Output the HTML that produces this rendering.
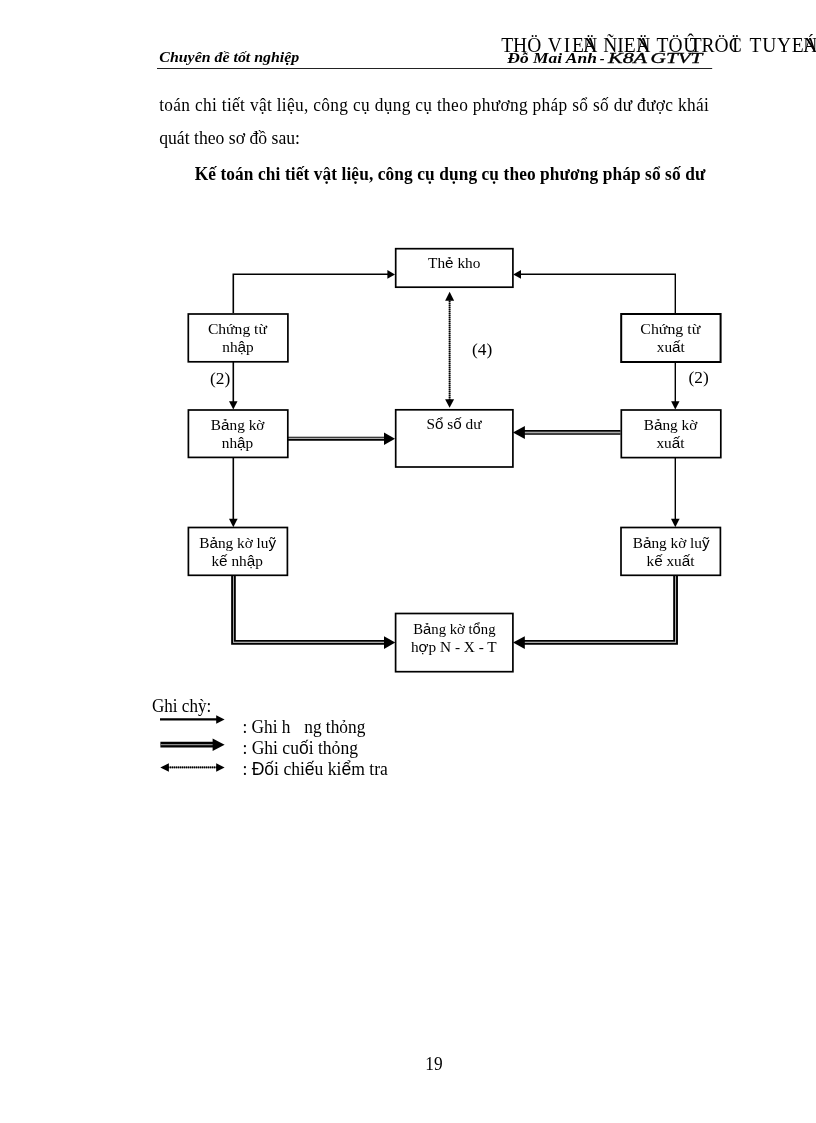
<!DOCTYPE html>
<html><head><meta charset="utf-8">
<style>
html,body{margin:0;padding:0;background:#fff;}
body{width:816px;height:1123px;position:relative;overflow:hidden;font-family:"Liberation Serif",serif;color:#000;}
.t{position:absolute;white-space:nowrap;font-size:17.33px;line-height:20px;will-change:transform;}
.j{text-align:justify;text-align-last:justify;}
svg{position:absolute;left:0;top:0;will-change:transform;}
svg text{font-family:"Liberation Serif",serif;fill:#000;}
.s{font-family:"Liberation Sans",sans-serif;}
.b{fill:#fff;stroke:#000;stroke-width:1.7;}
.l{stroke:#000;fill:none;}
</style></head><body>
<svg width="816" height="1123" viewBox="0 0 816 1123">
<!-- header -->
<line x1="157" y1="68.5" x2="712.2" y2="68.5" stroke="#222" stroke-width="1"/>
<text x="159.3" y="62.3" font-size="15" font-weight="bold" font-style="italic" textLength="140" lengthAdjust="spacingAndGlyphs">Chuyên đề tốt nghiệp</text>
<g font-size="14.5" font-weight="bold" font-style="italic">
<text x="507.3" y="62.8" textLength="89.6" lengthAdjust="spacingAndGlyphs">Đỗ Mai Anh</text>
<text x="599.8" y="62.8">-</text>
<text x="608" y="62.8" textLength="39" lengthAdjust="spacingAndGlyphs" font-weight="normal" stroke="#000" stroke-width="0.35">K8A</text>
<text x="650.6" y="62.8" textLength="51.8" lengthAdjust="spacingAndGlyphs" font-weight="normal" stroke="#000" stroke-width="0.35">GTVT</text>
</g>
<g font-size="19.5" transform="translate(0,52) scale(1,1.07)">
<text x="501.2" y="0">THÖ</text>
<text x="547.8" y="0" textLength="36" lengthAdjust="spacing">VIE</text><text x="583.3" y="0">N</text><text x="583.3" y="0">Ä</text>
<text x="603.2" y="0">ÑIE</text><text x="636.2" y="0">N</text><text x="636.2" y="0">Ä</text>
<text x="656.6" y="0">TÖ</text><text x="683.3" y="0">Û</text><text x="689.8" y="0">T</text>
<text x="701.6" y="0">RÖ</text><text x="728.8" y="0">C</text><text x="732" y="0">Ï</text>
<text x="749.6" y="0" textLength="54" lengthAdjust="spacing">TUYE</text><text x="803.3" y="0">N</text><text x="803.3" y="0">Á</text>
</g>


<!-- body text -->
<g font-size="17.33">
<text transform="translate(159.2,110.9) scale(1,1.13)" textLength="549.6" lengthAdjust="spacing" id="L1">toán chi tiết vật liệu, công cụ dụng cụ theo phương pháp sổ số dư được khái</text>
<text transform="translate(159.2,143.9) scale(1.02,1.13)">quát theo sơ đồ sau:</text>
<text transform="translate(194.7,179.5) scale(1,1.14)" font-weight="bold" textLength="510.6" lengthAdjust="spacing">Kế toán chi tiết vật liệu, công cụ dụng cụ theo phương pháp sổ số dư</text>
<text transform="translate(152,711.6) scale(0.985,1.07)">Ghi chỳ:</text>
<text transform="translate(242.4,732.5) scale(1,1.07)">: Ghi h<tspan dx="13.7">ng</tspan> thỏng</text>
<text transform="translate(242.4,754.1) scale(1.013,1.07)">: Ghi cu<tspan class="s">ố</tspan>i thỏng</text>
<text transform="translate(242.4,775) scale(1.014,1.07)">: <tspan class="s">Đố</tspan>i chi<tspan class="s">ế</tspan>u ki<tspan class="s">ể</tspan>m tra</text>
<text transform="translate(425.3,1070) scale(1,1.07)">19</text>
</g>
<!-- connectors -->
<g class="l" stroke-width="1.6">
<polyline points="233.3,313 233.3,274.3 389,274.3"/>
<line x1="233.3" y1="362" x2="233.3" y2="403"/>
<line x1="233.3" y1="458" x2="233.3" y2="520"/>
</g>
<g class="l" stroke-width="1.4">
<polyline points="675.3,313 675.3,274.3 520,274.3"/>
<line x1="675.3" y1="362" x2="675.3" y2="403"/>
<line x1="675.3" y1="458" x2="675.3" y2="520"/>
</g>
<!-- single arrowheads -->
<g fill="#000">
<polygon points="395,274.4 387.4,270 387.4,278.8"/>
<polygon points="513.2,274.4 521,270 521,278.8"/>
<polygon points="233.3,409.4 229,401.2 237.5,401.2"/>
<polygon points="675.3,409.4 671.1,401.2 679.5,401.2"/>
<polygon points="233.3,527.3 229,518.8 237.6,518.8"/>
<polygon points="675.3,527.3 671,518.8 679.6,518.8"/>
</g>
<!-- dotted double-ended vertical -->
<line x1="449.6" y1="299" x2="449.6" y2="401" stroke="#666" stroke-width="1.7"/><line x1="449.6" y1="299" x2="449.6" y2="401" stroke="#000" stroke-width="1.7" stroke-dasharray="1 1"/>
<polygon points="449.6,291.8 445.1,300.8 454.1,300.8"/>
<polygon points="449.6,407.8 445.1,399.2 454.1,399.2"/>
<!-- double-line arrows -->
<g class="l">
<line x1="288" y1="438.4" x2="386" y2="438.4" stroke="#aaa" stroke-width="1.2"/>
<line x1="288" y1="437.3" x2="386" y2="437.3" stroke-width="1.1"/><line x1="288" y1="439.9" x2="386" y2="439.9" stroke-width="1.9"/>
<line x1="620.5" y1="432.4" x2="523" y2="432.4" stroke="#aaa" stroke-width="1.2"/>
<line x1="620.5" y1="430.9" x2="523" y2="430.9" stroke-width="1.9"/><line x1="620.5" y1="434" x2="523" y2="434" stroke-width="1.7"/>
<polyline points="233.5,576 233.5,642.4 386,642.4" stroke="#aaa" stroke-width="1.2"/>
<polyline points="232.1,576 232.1,643.9 386,643.9" stroke-width="1.9"/><polyline points="234.9,576 234.9,640.9 386,640.9" stroke-width="1.8"/>
<polyline points="675.5,576 675.5,642.4 523,642.4" stroke="#aaa" stroke-width="1.2"/>
<polyline points="677,576 677,643.9 523,643.9" stroke-width="1.9"/><polyline points="674.1,576 674.1,640.9 523,640.9" stroke-width="1.8"/>
</g>
<g fill="#000">
<polygon points="395,438.8 384,432.6 384,445"/>
<polygon points="512.9,432.5 524.9,426.1 524.9,438.9"/>
<polygon points="395.3,642.6 384,636.2 384,649"/>
<polygon points="513,642.6 524.8,636.2 524.8,649"/>
</g>
<!-- boxes -->
<rect class="b" x="395.7" y="248.7" width="117.2" height="38.5"/>
<rect class="b" x="188.3" y="314" width="99.6" height="47.8"/>
<rect class="b" x="621.2" y="314" width="99.4" height="48" style="stroke-width:2"/>
<rect class="b" x="188.4" y="410" width="99.4" height="47.4"/>
<rect class="b" x="395.7" y="409.8" width="117.2" height="57.2"/>
<rect class="b" x="621.3" y="410" width="99.5" height="47.6"/>
<rect class="b" x="188.4" y="527.5" width="99" height="47.8"/>
<rect class="b" x="621" y="527.5" width="99.4" height="47.8"/>
<rect class="b" x="395.6" y="613.5" width="117.3" height="58.2"/>
<!-- box text -->
<g font-size="15.3" text-anchor="middle">
<text x="454.2" y="268">Th<tspan class="s">ẻ</tspan> kho</text>
<text x="237.4" y="334.1" textLength="59" lengthAdjust="spacingAndGlyphs">Chứng từ</text><text x="238" y="352.3">nh<tspan class="s">ậ</tspan>p</text>
<text x="670.3" y="334.1" textLength="60" lengthAdjust="spacingAndGlyphs">Chứng từ</text><text x="670.8" y="352.4">xu<tspan class="s">ấ</tspan>t</text>
<text x="237.6" y="429.7">B<tspan class="s">ả</tspan>ng kờ</text><text x="237.5" y="448.4">nh<tspan class="s">ậ</tspan>p</text>
<text x="454" y="429.3">S<tspan class="s">ổ</tspan> s<tspan class="s">ố</tspan> dư</text>
<text x="670.5" y="429.9">B<tspan class="s">ả</tspan>ng kờ</text><text x="670.5" y="448.2">xu<tspan class="s">ấ</tspan>t</text>
<text x="237.7" y="548">B<tspan class="s">ả</tspan>ng kờ lu<tspan class="s">ỹ</tspan></text><text x="237.2" y="565.8">k<tspan class="s">ế</tspan> nh<tspan class="s">ậ</tspan>p</text>
<text x="671.2" y="548">B<tspan class="s">ả</tspan>ng kờ lu<tspan class="s">ỹ</tspan></text><text x="670.5" y="565.8">k<tspan class="s">ế</tspan> xu<tspan class="s">ấ</tspan>t</text>
<text x="454.4" y="634.1" textLength="82.3" lengthAdjust="spacingAndGlyphs">B<tspan class="s">ả</tspan>ng kờ t<tspan class="s">ổ</tspan>ng</text><text x="453.8" y="651.8">h<tspan class="s">ợ</tspan>p N - X - T</text>
</g>
<g font-size="17.33">
<text x="472" y="354.6">(4)</text>
<text x="210" y="383.8">(2)</text>
<text x="688.6" y="382.9">(2)</text>
</g>
<!-- legend arrows -->
<line x1="160" y1="719.4" x2="217" y2="719.4" stroke="#000" stroke-width="2.3"/>
<polygon points="224.6,719.5 216.2,715.3 216.2,723.7"/>
<line x1="160.4" y1="744.6" x2="214" y2="744.6" stroke="#000" stroke-width="5.9"/>
<line x1="160.4" y1="744.65" x2="213" y2="744.65" stroke="#8a8a8a" stroke-width="1.4"/>
<polygon points="224.6,744.8 212.6,738.5 212.6,751.1"/>
<line x1="168" y1="767.4" x2="217" y2="767.4" stroke="#666" stroke-width="1.6"/><line x1="168" y1="767.4" x2="217" y2="767.4" stroke="#000" stroke-width="1.6" stroke-dasharray="1 1"/>
<polygon points="160.3,767.5 168.9,763.3 168.9,771.7"/>
<polygon points="224.6,767.5 216.2,763.3 216.2,771.7"/>
</svg>
</body></html>
